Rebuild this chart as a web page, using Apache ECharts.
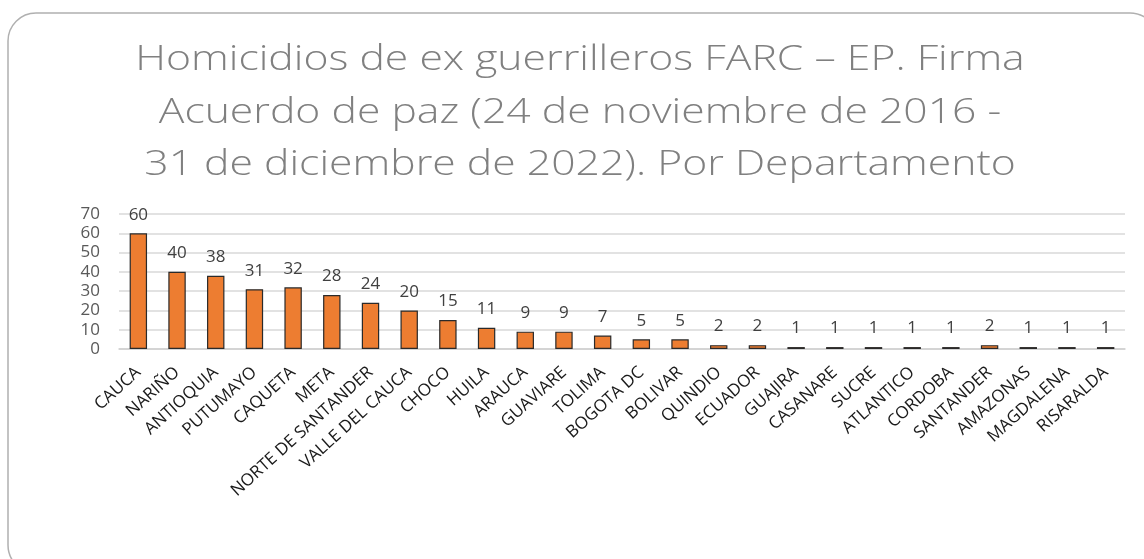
<!DOCTYPE html>
<html>
<head>
<meta charset="utf-8">
<script src="https://cdn.jsdelivr.net/npm/echarts@6/dist/echarts.min.js"></script>
<style>
html,body{margin:0;padding:0;background:#fff;}
#c{width:1144px;height:559px;}
</style>
</head>
<body>
<div id="c"></div>
<script>
const categories = ["CAUCA","NARIÑO","ANTIOQUIA","PUTUMAYO","CAQUETA","META","NORTE DE SANTANDER","VALLE DEL CAUCA","CHOCO","HUILA","ARAUCA","GUAVIARE","TOLIMA","BOGOTA DC","BOLIVAR","QUINDIO","ECUADOR","GUAJIRA","CASANARE","SUCRE","ATLANTICO","CORDOBA","SANTANDER","AMAZONAS","MAGDALENA","RISARALDA"];
const values = [60,40,38,31,32,28,24,20,15,11,9,9,7,5,5,2,2,1,1,1,1,1,2,1,1,1];
const titleLines = ["Homicidios de ex guerrilleros FARC – EP. Firma","Acuerdo de paz (24 de noviembre de 2016 -","31 de diciembre de 2022). Por Departamento"];

const titleGraphics = titleLines.map((t, i) => ({
  type:'text', x:580, y:43 + i*52.5, scaleX:1.22, silent:true,
  style:{text:t, font:'300 35px "Open Sans"', fill:'#808080', align:'center', verticalAlign:'top'}
}));

const chart = echarts.init(document.getElementById('c'), null, {renderer:'canvas'});
chart.setOption({
  backgroundColor:'#fff',
  animation:false,
  graphic:[{
    type:'rect', shape:{x:8, y:13, width:1150, height:560, r:28},
    style:{fill:'none', stroke:'#b0b0b0', lineWidth:1.5}, silent:true, z:-1
  }].concat(titleGraphics),
  grid:{left:119, right:19, top:214, bottom:210, containLabel:false},
  xAxis:{
    type:'category', data:categories,
    axisLine:{lineStyle:{color:'#d0d0d0', width:1.5}},
    axisTick:{show:false},
    axisLabel:{rotate:42, interval:0, fontFamily:'Open Sans', fontSize:17, color:'#1a1a1a', margin:21}
  },
  yAxis:{
    type:'value', min:0, max:70, interval:10,
    axisLine:{show:false}, axisTick:{show:false},
    splitLine:{lineStyle:{color:'#d9d9d9', width:1.5}},
    axisLabel:{fontFamily:'Open Sans', fontSize:17, color:'#595959', margin:19}
  },
  series:[{
    type:'bar', data:values, barWidth:'45%',
    itemStyle:{color:'#ED7D31', borderColor:'#2a2a2a', borderWidth:1.2},
    label:{show:true, position:'top', distance:10, fontFamily:'Open Sans', fontSize:17, color:'#404040'}
  }]
});
</script>
</body>
</html>
